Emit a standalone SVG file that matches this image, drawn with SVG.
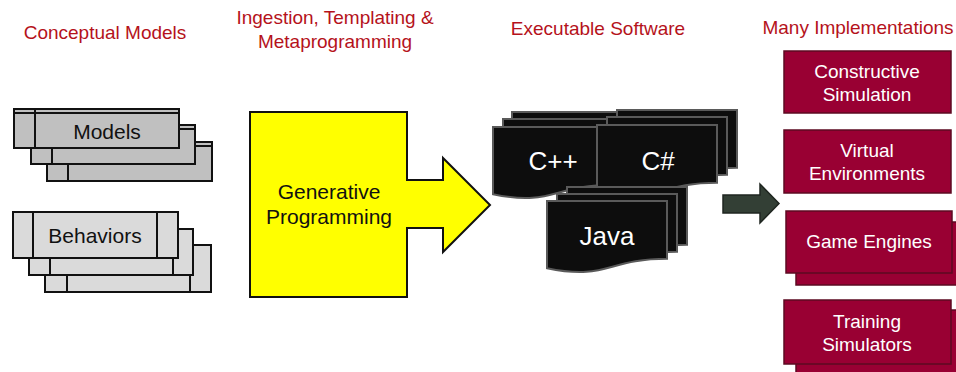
<svg xmlns="http://www.w3.org/2000/svg" xmlns:xlink="http://www.w3.org/1999/xlink" width="956" height="372" viewBox="0 0 956 372">
<style>
  .hdr { font-family: "Liberation Sans", Arial, sans-serif; font-size: 19px; fill: #b5121b; text-anchor: middle; }
  .lbl { font-family: "Liberation Sans", Arial, sans-serif; fill: #111; text-anchor: middle; }
  .code { font-family: "Liberation Sans", Arial, sans-serif; font-size: 26px; fill: #ffffff; text-anchor: middle; }
  .impl { font-family: "Liberation Sans", Arial, sans-serif; font-size: 19px; fill: #ffffff; text-anchor: middle; }
  .card-m { fill: #c0c0c0; stroke: #111; stroke-width: 2; }
  .card-b { fill: #dadada; stroke: #111; stroke-width: 2; }
  .ln { stroke: #111; stroke-width: 2; fill: none; }
  .doc { fill: #0d0d0d; stroke: #5a5a5a; stroke-width: 2; }
  .box { fill: #990033; stroke: #5c0a22; stroke-width: 1.5; }
</style>
<defs>
  <path id="doc" d="M0,0 H120 V57.7 C60,57.7 60,79.7 0,67.2 Z"/>
</defs>

<g id="headers">
  <text class="hdr" x="105" y="39">Conceptual Models</text>
  <text class="hdr" x="335" y="24">Ingestion, Templating &amp;</text>
  <text class="hdr" x="335" y="48">Metaprogramming</text>
  <text class="hdr" x="598" y="35">Executable Software</text>
  <text class="hdr" x="858" y="34">Many Implementations</text>
</g>

<g id="models">
  <rect class="card-m" x="47" y="142" width="165" height="39"/>
  <line class="ln" x1="47" y1="146" x2="212" y2="146"/>
  <line class="ln" x1="68" y1="142" x2="68" y2="181"/>
  <rect class="card-m" x="31" y="125" width="164" height="39"/>
  <line class="ln" x1="31" y1="129" x2="195" y2="129"/>
  <line class="ln" x1="52" y1="125" x2="52" y2="164"/>
  <rect class="card-m" x="14" y="109" width="165" height="39"/>
  <line class="ln" x1="14" y1="113" x2="179" y2="113"/>
  <line class="ln" x1="35" y1="109" x2="35" y2="148"/>
  <text class="lbl" x="107" y="139" font-size="21">Models</text>
</g>

<g id="behaviors">
  <rect class="card-b" x="45" y="245" width="166" height="47"/>
  <line class="ln" x1="67" y1="245" x2="67" y2="292"/>
  <line class="ln" x1="190" y1="245" x2="190" y2="292"/>
  <rect class="card-b" x="29" y="229" width="164" height="46"/>
  <line class="ln" x1="50" y1="229" x2="50" y2="275"/>
  <line class="ln" x1="173" y1="229" x2="173" y2="275"/>
  <rect class="card-b" x="13" y="212" width="165" height="46"/>
  <line class="ln" x1="33" y1="212" x2="33" y2="258"/>
  <line class="ln" x1="157" y1="212" x2="157" y2="258"/>
  <text class="lbl" x="95" y="243" font-size="21">Behaviors</text>
</g>

<g id="generative">
  <path d="M250,112 H407 V180 H443 V158 L490,205 L443,252 V228 H407 V297 H250 Z" fill="#ffff00" stroke="#111" stroke-width="2" stroke-linejoin="miter"/>
  <text class="lbl" x="329" y="199" font-size="21">Generative</text>
  <text class="lbl" x="329" y="224" font-size="21">Programming</text>
</g>

<g id="cpp">
  <use xlink:href="#doc" href="#doc" class="doc" x="512" y="112"/>
  <use xlink:href="#doc" href="#doc" class="doc" x="503" y="119"/>
  <use xlink:href="#doc" href="#doc" class="doc" x="493" y="127"/>
  <text class="code" x="553" y="170">C++</text>
</g>

<g id="csharp">
  <use xlink:href="#doc" href="#doc" class="doc" x="617" y="110"/>
  <use xlink:href="#doc" href="#doc" class="doc" x="607" y="117"/>
  <use xlink:href="#doc" href="#doc" class="doc" x="597" y="125"/>
  <text class="code" x="658" y="170">C#</text>
</g>

<g id="java">
  <use xlink:href="#doc" href="#doc" class="doc" x="567" y="187"/>
  <use xlink:href="#doc" href="#doc" class="doc" x="557" y="194"/>
  <use xlink:href="#doc" href="#doc" class="doc" x="547" y="201"/>
  <text class="code" x="607" y="245">Java</text>
</g>

<g id="connectors">
  <path d="M723,195 H760 V184 L779,203.5 L760,223 V213 H723 Z" fill="#333f35" stroke="#1f2620" stroke-width="1.5"/>
</g>

<g id="constructive">
  <rect class="box" x="784" y="51" width="167" height="62"/>
  <text class="impl" x="867" y="78">Constructive</text>
  <text class="impl" x="867" y="101">Simulation</text>
</g>

<g id="virtual">
  <rect class="box" x="784" y="130" width="167" height="63"/>
  <text class="impl" x="867" y="157">Virtual</text>
  <text class="impl" x="867" y="180">Environments</text>
</g>

<g id="game-engines">
  <rect class="box" x="796" y="222" width="170" height="63"/>
  <rect class="box" x="786" y="211" width="166" height="62"/>
  <text class="impl" x="869" y="248">Game Engines</text>
</g>

<g id="training">
  <rect class="box" x="796" y="310" width="170" height="64"/>
  <rect class="box" x="784" y="300" width="167" height="64"/>
  <text class="impl" x="867" y="328">Training</text>
  <text class="impl" x="867" y="351">Simulators</text>
</g>
</svg>
